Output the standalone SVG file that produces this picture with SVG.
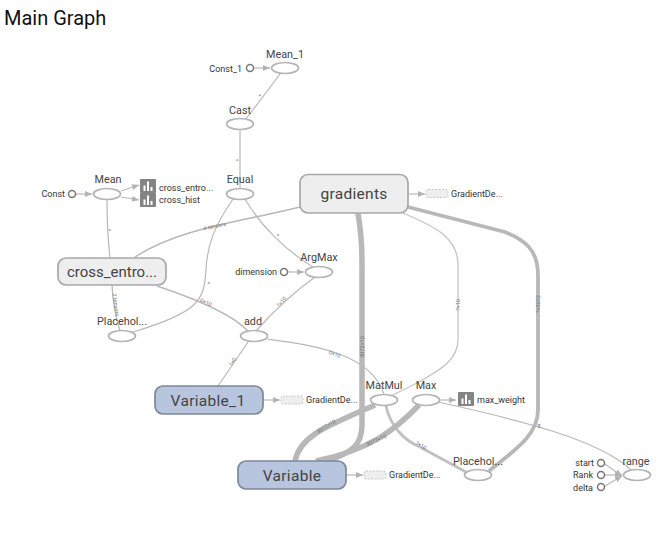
<svg xmlns="http://www.w3.org/2000/svg" width="672" height="550" viewBox="0 0 672 550">
<style>
text{font-family:Roboto,"Liberation Sans",sans-serif;fill:#444}
.t{font-size:10.800px;text-anchor:middle}
.s{font-size:9px;fill:#333}
.r{font-size:9px;text-anchor:end;fill:#333}
.big{font-size:15.500px;text-anchor:middle;fill:#444;letter-spacing:.3px}
.l{font-size:5.500px;text-anchor:middle;fill:#777}
.e{fill:#fff;stroke:#b5b5b5;stroke-width:1.700}
.c{fill:#fff;stroke:#777;stroke-width:1.500}
.g{fill:#eee;stroke:#a8a8a8;stroke-width:1.700}
.v{fill:#b8c5de;stroke:#7d8799;stroke-width:1.700}
.d{fill:#eee;stroke:#bbb;stroke-width:.8;stroke-dasharray:2 1.500}
.i{fill:#848484}
.b{fill:#fff}
#edges path{fill:none;stroke:#b8b8b8;stroke-width:1.200}
#edges path.a{marker-end:url(#arrow)}
</style>
<defs>
<marker id="arrow" markerUnits="userSpaceOnUse" markerWidth="8" markerHeight="8" refX="7" refY="4" orient="auto"><path d="M0 1L7 4L0 7Z" fill="#b3b3b3"/></marker>
<g id="bars"><rect x="0" y="0" width="16" height="14" rx="1" class="i"/><rect x="3.500" y="6.500" width="2" height="5.500" class="b"/><rect x="7" y="2.500" width="2" height="9.500" class="b"/><rect x="10.500" y="8" width="2" height="4" class="b"/></g>
</defs>
<text x="4" y="25" style="font-size:20px;fill:#111">Main Graph</text>
<g id="edges">
<path class="a" d="M254 68H270"/>
<path class="a" d="M76 194H92"/>
<path class="a" d="M121 191L139 185"/>
<path class="a" d="M121 197L139 200"/>
<path class="a" d="M288 272H304"/>
<path class="a" d="M409 194H425"/>
<path class="a" d="M264 400H280"/>
<path class="a" d="M347 475H363"/>
<path class="a" d="M439 400H456"/>
<path class="a" d="M605 464L622 476"/>
<path class="a" d="M605 475H622"/>
<path class="a" d="M605 486L622 476"/>
<path d="M280 74L246 119"/>
<path d="M240 130V188"/>
<path d="M107 200C107 225 108 240 110 258"/>
<path d="M300 207C240 222 180 228 135 257" style="stroke-width:1.500"/>
<path d="M233 199C215 225 207 245 206 270C204 300 200 312 133 332"/>
<path d="M245 199C260 225 285 250 313 267"/>
<path d="M112 285C113 305 116 318 120 331" style="stroke-width:1.300"/>
<path d="M157 286C190 297 230 312 248 331" style="stroke-width:1.400"/>
<path d="M315 277C290 295 270 315 256 331"/>
<path d="M248 342L218 386"/>
<path d="M267 339C310 345 370 352 384 394"/>
<path d="M403 213C430 225 458 235 458 265V340C458 360 440 370 417 383L391 396" style="stroke:#c4c4c4;stroke-width:1.300"/>
<path d="M438 402C520 420 600 440 631 470"/>
<path d="M386 406C390 425 403 440 420 447L466 472" style="stroke-width:2.800;stroke:#c0c0c0"/>
<path d="M408 207L505 232C525 240 538 250 538 275V410C538 435 515 450 489 471" style="stroke-width:3.800"/>
<path d="M358 213C362 240 362 250 362 270V425C362 445 352 453 326 461" style="stroke-width:5.500"/>
<path d="M375 405C330 425 300 435 295 461" style="stroke-width:5.500"/>
<path d="M419 405C395 430 370 450 316 461" style="stroke-width:5.500"/>
</g>
<g id="labels">
<text class="l" transform="translate(262 97) rotate(-52)">*</text>
<text class="l" transform="translate(240 160) rotate(-90)">*</text>
<text class="l" transform="translate(107 230) rotate(90)">*</text>
<text class="l" transform="translate(215 228) rotate(-12)">4 tensors</text>
<text class="l" transform="translate(276 237) rotate(48)">*</text>
<text class="l" transform="translate(206 283) rotate(90)">*</text>
<text class="l" transform="translate(114 305) rotate(82)">2 tensors</text>
<text class="l" transform="translate(205 304) rotate(25)">0×10</text>
<text class="l" transform="translate(283 303) rotate(-50)">?×10</text>
<text class="l" transform="translate(234 363) rotate(-55)">1×0</text>
<text class="l" transform="translate(334 356) rotate(18)">0×10</text>
<text class="l" transform="translate(460 305) rotate(-90)">?×10</text>
<text class="l" transform="translate(540 304) rotate(-90)">?×3072</text>
<text class="l" transform="translate(364 347) rotate(-90)">3072×10</text>
<text class="l" transform="translate(327 428) rotate(-32)">3072×10</text>
<text class="l" transform="translate(377 442) rotate(-25)">3072×10</text>
<text class="l" transform="translate(420 447) rotate(32)">?×10</text>
<text class="l" transform="translate(539 428)">8</text>
</g>
<g id="node-mean1"><ellipse class="e" cx="285" cy="68" rx="13.500" ry="5.500"/><text class="t" x="285" y="58">Mean_1</text></g>
<g id="node-const1"><circle class="c" cx="250" cy="68" r="3.500"/><text class="r" x="242" y="72">Const_1</text></g>
<g id="node-cast"><ellipse class="e" cx="240" cy="124" rx="13.500" ry="5.500"/><text class="t" x="240" y="114">Cast</text></g>
<g id="node-equal"><ellipse class="e" cx="240" cy="194" rx="13.500" ry="5.500"/><text class="t" x="240" y="183">Equal</text></g>
<g id="node-mean"><ellipse class="e" cx="107" cy="194" rx="13.500" ry="5.500"/><text class="t" x="108" y="183">Mean</text></g>
<g id="node-const"><circle class="c" cx="72" cy="194" r="3.500"/><text class="r" x="65" y="197">Const</text></g>
<g id="node-cross-entro-sum"><use href="#bars" x="140" y="179"/><text class="s" x="159" y="191">cross_entro...</text></g>
<g id="node-cross-hist"><use href="#bars" x="140" y="193"/><text class="s" x="159" y="203">cross_hist</text></g>
<g id="node-gradients"><rect class="g" x="300" y="174.500" width="108" height="38.500" rx="8"/><text class="big" x="354" y="199">gradients</text></g>
<g id="node-grad-de1"><rect class="d" x="426" y="189.500" width="22" height="8" rx="2"/><text class="s" x="451" y="197">GradientDe...</text></g>
<g id="node-cross-entropy"><rect class="g" x="58" y="258" width="108" height="27" rx="8"/><text class="big" x="112" y="277" style="font-size:15px;letter-spacing:0">cross_entro...</text></g>
<g id="node-argmax"><ellipse class="e" cx="319" cy="272" rx="13.500" ry="5.500"/><text class="t" x="319" y="261">ArgMax</text></g>
<g id="node-dimension"><circle class="c" cx="284" cy="272" r="3.500"/><text class="r" x="277" y="275">dimension</text></g>
<g id="node-placeholder1"><ellipse class="e" cx="122" cy="336" rx="13.500" ry="5.500"/><text class="t" x="122" y="325">Placehol...</text></g>
<g id="node-add"><ellipse class="e" cx="254" cy="336" rx="13.500" ry="5.500"/><text class="t" x="253" y="325">add</text></g>
<g id="node-variable1"><rect class="v" x="155" y="386" width="108" height="28" rx="8"/><text class="big" x="208" y="406">Variable_1</text></g>
<g id="node-grad-de2"><rect class="d" x="281" y="396" width="22" height="8" rx="2"/><text class="s" x="306" y="403">GradientDe...</text></g>
<g id="node-matmul"><ellipse class="e" cx="384" cy="400" rx="13.500" ry="5.500"/><text class="t" x="384" y="389">MatMul</text></g>
<g id="node-max"><ellipse class="e" cx="426" cy="400" rx="13.500" ry="5.500"/><text class="t" x="426" y="389">Max</text></g>
<g id="node-max-weight"><use href="#bars" x="458" y="392"/><text class="s" x="477" y="403">max_weight</text></g>
<g id="node-variable"><rect class="v" x="238" y="461" width="108" height="28" rx="8"/><text class="big" x="292" y="481">Variable</text></g>
<g id="node-grad-de3"><rect class="d" x="364" y="471" width="22" height="8" rx="2"/><text class="s" x="389" y="478">GradientDe...</text></g>
<g id="node-placeholder2"><ellipse class="e" cx="478" cy="475" rx="13.500" ry="5.500"/><text class="t" x="478" y="465">Placehol...</text></g>
<g id="node-range"><ellipse class="e" cx="637" cy="475" rx="13.500" ry="5.500"/><text class="t" x="636" y="465">range</text></g>
<g id="node-start"><circle class="c" cx="601" cy="463" r="3.500"/><text class="r" x="594" y="466">start</text></g>
<g id="node-rank"><circle class="c" cx="601" cy="475" r="3.500"/><text class="r" x="593" y="478">Rank</text></g>
<g id="node-delta"><circle class="c" cx="601" cy="487" r="3.500"/><text class="r" x="593" y="491">delta</text></g>
</svg>
